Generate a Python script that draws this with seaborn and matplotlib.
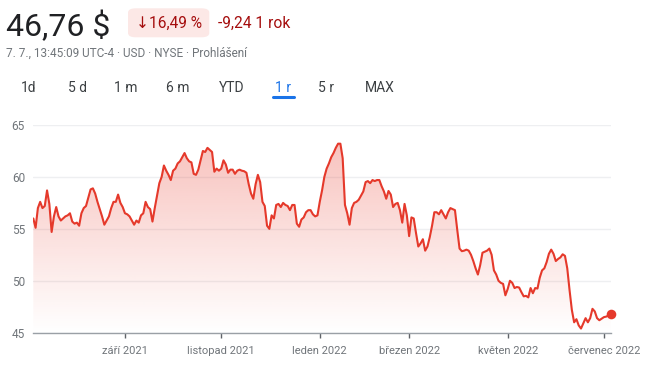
import numpy as np
import pandas as pd
import matplotlib
matplotlib.use("Agg")
import matplotlib.pyplot as plt
import seaborn as sns
from matplotlib.colors import to_rgb
from matplotlib.patches import FancyBboxPatch

# ---------------- data ----------------
start_date = "2021-07-07"
end_date = "2022-07-07"
nyse_holidays = ["2021-09-06", "2021-11-25", "2021-12-24", "2022-01-17", "2022-02-21",
                 "2022-04-15", "2022-05-30", "2022-06-20", "2022-07-04"]

# closing prices, one per trading day
prices = [
    56.0, 55.1, 57.0, 57.6, 57.0, 57.2, 58.7, 57.4, 54.7, 56.2,
    57.1, 56.2, 55.8, 56.0, 56.2, 56.3, 56.5, 55.7, 55.5, 55.6,
    55.3, 56.5, 57.0, 57.2, 58.0, 58.8, 58.9, 58.4, 57.6, 56.9,
    56.2, 55.4, 55.8, 56.2, 57.0, 57.6, 57.6, 58.3, 57.5, 57.1,
    56.5, 56.4, 56.2, 55.8, 55.4, 55.8, 55.6, 56.3, 56.5, 57.6,
    57.1, 56.9, 55.7, 57.0, 58.2, 59.4, 60.0, 61.1, 60.6, 60.2,
    59.7, 60.6, 60.8, 61.3, 61.5, 61.9, 62.3, 61.8, 61.5, 61.4,
    60.3, 60.2, 60.7, 61.6, 62.5, 62.4, 62.8, 62.6, 62.4, 60.5,
    60.8, 60.6, 60.8, 61.6, 61.2, 60.4, 60.7, 60.7, 60.3, 60.6,
    60.7, 60.6, 60.55, 60.4, 59.3, 58.4, 57.9, 59.3, 60.2, 59.5,
    57.6, 57.2, 55.3, 55.0, 56.3, 56.0, 57.3, 57.4, 57.1, 57.5,
    57.3, 57.2, 56.8, 57.3, 57.3, 55.5, 55.2, 55.9, 56.1, 56.6,
    56.8, 56.8, 56.4, 56.2, 56.3, 57.6, 58.7, 60.0, 60.8, 61.3,
    61.9, 62.3, 62.8, 63.2, 63.2, 61.8, 57.3, 56.5, 55.4, 57.0,
    57.5, 57.6, 57.8, 58.2, 58.6, 59.5, 59.6, 59.4, 59.7, 59.6,
    59.7, 59.7, 59.1, 58.6, 57.9, 58.65, 58.3, 57.1, 57.4, 57.5,
    56.8, 55.6, 57.4, 56.3, 54.3, 56.1, 56.0, 54.6, 53.3, 53.6,
    54.0, 52.9, 53.3, 54.2, 55.3, 56.6, 56.6, 56.4, 56.8, 56.4,
    56.0, 56.6, 57.0, 56.9, 56.8, 54.9, 53.1, 52.85, 52.9, 53.0,
    52.9, 52.5, 51.9, 51.2, 50.6, 51.5, 52.7, 52.8, 52.9, 53.1,
    52.5, 51.0, 50.6, 50.0, 49.8, 49.7, 48.6, 49.2, 50.0, 49.8,
    49.3, 49.4, 49.35, 48.9, 48.5, 48.55, 48.4, 49.3, 48.8, 49.3,
    49.25, 50.3, 51.0, 51.2, 51.8, 52.6, 53.0, 52.6, 51.9, 52.1,
    52.25, 52.55, 52.4, 51.2, 49.1, 47.2, 46.0, 46.3, 45.7, 45.4,
    45.9, 46.4, 46.0, 46.4, 47.3, 47.05, 46.4, 46.2, 46.35, 46.5,
    46.55, 46.65, 46.76,
]

tick_dates = ["2021-09-01", "2021-11-01", "2022-01-03", "2022-03-01", "2022-05-02", "2022-07-01"]
tick_labels = ["září 2021", "listopad 2021", "leden 2022", "březen 2022", "květen 2022", "červenec 2022"]
y_ticks = [45, 50, 55, 60, 65]

price_text = "46,76 $"
change_pct_text = "↓16,49 %"
change_abs_text = "-9,24 1 rok"
subtitle_text = "7. 7., 13:45:09 UTC-4 · USD · NYSE · Prohlášení"
tabs = ["1d", "5 d", "1 m", "6 m", "YTD", "1 r", "5 r", "MAX"]
active_tab = "1 r"

# ---------------- build ----------------
dates = pd.bdate_range(start_date, end_date)
dates = dates[~dates.isin(pd.to_datetime(nyse_holidays))]
n = min(len(dates), len(prices))
dates = dates[:n]
prices = prices[:n]
pos = np.arange(n)
df = pd.DataFrame({"pos": pos, "price": prices})
tick_pos = dates.get_indexer(pd.to_datetime(tick_dates))

W, H = 650, 365
sns.set_theme(style="white")
plt.rcParams["font.family"] = ["Roboto", "DejaVu Sans"]

fig = plt.figure(figsize=(W / 100, H / 100), dpi=100)
fig.patch.set_facecolor("white")

RED = "#e5392b"
GRAY = "#70757a"

ax_left, ax_right = 33.3, 610.8
ax_top, ax_bot = 125.0, 332.7
ax = fig.add_axes([ax_left / W, (H - ax_bot) / H, (ax_right - ax_left) / W, (ax_bot - ax_top) / H])

# gradient fill under the line
ymin, ymax = y_ticks[0], y_ticks[-1]
grad = np.zeros((256, 1, 4))
grad[..., :3] = to_rgb("#ea4335")
grad[..., 3] = np.linspace(0.32, 0.0, 256)[:, None]
top_val = max(prices)
im = ax.imshow(grad, aspect="auto", extent=[pos[0], pos[-1], ymin, top_val],
               origin="upper", zorder=1, interpolation="bilinear")
poly = ax.fill_between(df["pos"], df["price"], ymin, facecolor="none", edgecolor="none")
im.set_clip_path(poly.get_paths()[0], transform=ax.transData)

sns.lineplot(data=df, x="pos", y="price", ax=ax, color=RED, linewidth=1.5, zorder=3)
ax.scatter([pos[-1]], [prices[-1]], s=48, color=RED, zorder=4, clip_on=False, linewidths=0)

ax.set_xlim(pos[0], pos[-1])
ax.set_ylim(ymin, ymax)
ax.set_yticks(y_ticks)
ax.set_yticklabels([str(v) for v in y_ticks])
ax.set_xticks(tick_pos)
ax.set_xticklabels(tick_labels)
ax.set_xlabel("")
ax.set_ylabel("")

for s in ["top", "right", "left"]:
    ax.spines[s].set_visible(False)
ax.spines["bottom"].set_color("#9aa0a6")
ax.spines["bottom"].set_linewidth(1.0)

ax.yaxis.grid(True, color="#eeeff1", linewidth=1.0)
ax.xaxis.grid(False)
ax.set_axisbelow(True)
ax.tick_params(axis="y", length=0, pad=6, labelsize=8.5, labelcolor=GRAY)
ax.tick_params(axis="x", length=3.5, width=1, color="#5f6368", pad=6, labelsize=8, labelcolor=GRAY,
               bottom=True, direction="out")

# ---------------- header ----------------
def ftext(x, y, s, **kw):
    return fig.text(x / W, 1 - y / H, s, **kw)

ftext(6, 36, price_text, fontsize=23, color="#202124", va="baseline", ha="left")

pill = FancyBboxPatch((128 / W, 1 - 37.3 / H), (209.3 - 128) / W, (37.3 - 8.3) / H,
                      boxstyle="round,pad=0,rounding_size=0.012", transform=fig.transFigure,
                      facecolor="#fce8e6", edgecolor="none")
fig.patches.append(pill)
ftext(169, 27.8, change_pct_text, fontsize=11.2, color="#a50e0e", va="baseline", ha="center")
ftext(218, 27.8, change_abs_text, fontsize=11.2, color="#a50e0e", va="baseline", ha="left")

ftext(6, 56.5, subtitle_text, fontsize=8.5, color=GRAY, va="baseline", ha="left")

tab_x = [29, 77, 126, 178, 232, 283, 326, 380]
for t, x in zip(tabs, tab_x):
    col = "#1a73e8" if t == active_tab else "#3c4043"
    ftext(x, 91.5, t, fontsize=10, color=col, va="baseline", ha="center")
ax_tab = tab_x[tabs.index(active_tab)]
fig.add_artist(plt.Line2D([(ax_tab - 10.5) / W, (ax_tab + 10.5) / W], [1 - 97 / H, 1 - 97 / H],
                          transform=fig.transFigure, color="#1a73e8", linewidth=2.2,
                          solid_capstyle="round"))

fig.savefig("out.png", dpi=100, facecolor="white")
